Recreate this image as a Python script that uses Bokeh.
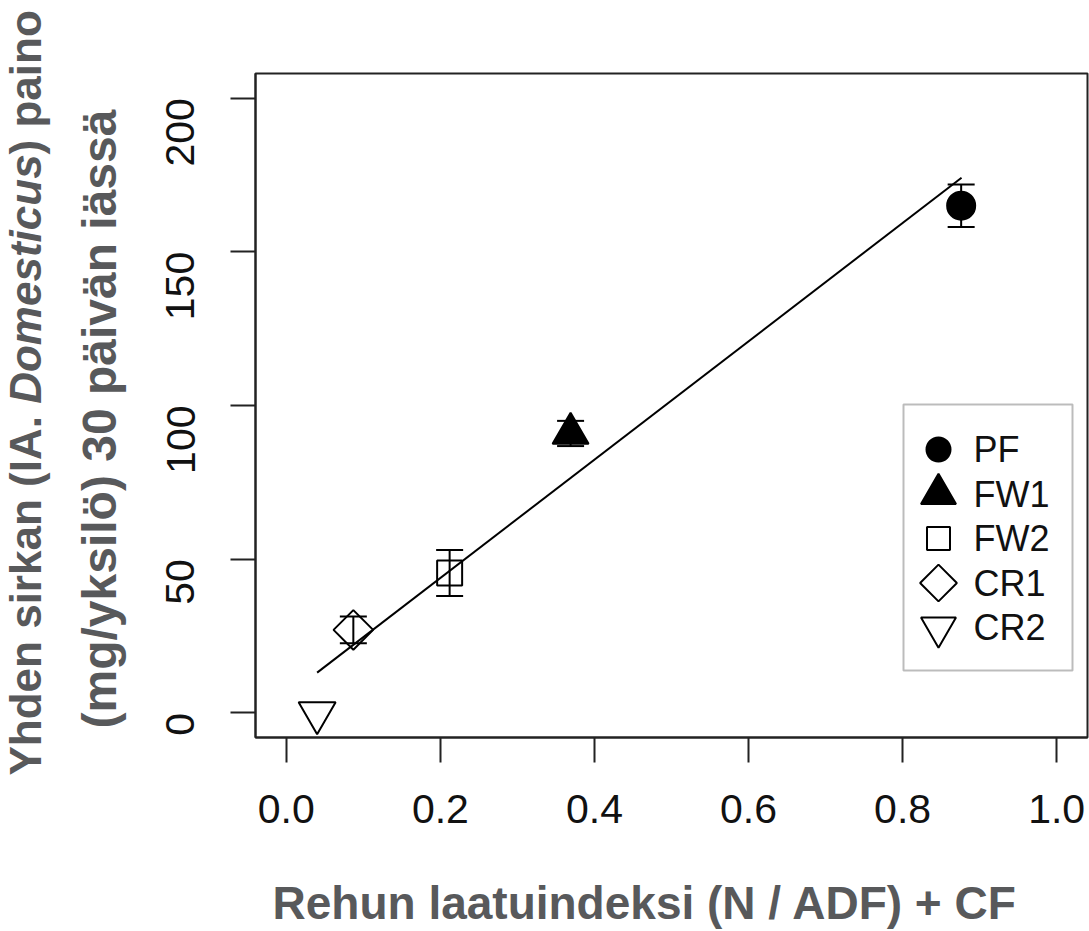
import math
from bokeh.plotting import figure
from bokeh.layouts import row, column
from bokeh.models import (ColumnDataSource, Whisker, TeeHead, Label, BoxAnnotation,
                          FixedTicker, NumeralTickFormatter, Range1d)
from bokeh.core.properties import value
from bokeh.embed import file_html
from bokeh.resources import INLINE

# ---------------- data ----------------
groups = ["PF", "FW1", "FW2", "CR1", "CR2"]
feed_index = [0.876, 0.369, 0.212, 0.087, 0.040]
weight_mean = [165.0, 90.9, 45.5, 27.0, 0.0]
weight_se = [6.9, 4.1, 7.5, 4.35, 0.0]
fit_x = [0.040, 0.8765]
fit_y = [13.1, 174.1]
x_ticks = [0.0, 0.2, 0.4, 0.6, 0.8, 1.0]
y_ticks = [0, 50, 100, 150, 200]
x_title = "Rehun laatuindeksi (N / ADF) + CF"
y_title_1 = ["Yhden sirkan (IA. ", "Domesticus", ") paino"]
y_title_2 = "(mg/yksilö) 30 päivän iässä"

# ---------------- styles ----------------
STYLE = {
    "PF":  dict(marker="circle", size=28, angle=0.0, filled=True, legend_size=24),
    "FW1": dict(marker="triangle", size=36, angle=0.0, filled=True, legend_size=35),
    "FW2": dict(marker="square", size=25, angle=0.0, filled=False, legend_size=23),
    "CR1": dict(marker="square", size=28, angle=math.pi / 4, filled=False, legend_size=26),
    "CR2": dict(marker="inverted_triangle", size=37, angle=0.0, filled=False, legend_size=35),
}
FONT = "Liberation Sans"
TITLE_COLOR = "#58595b"
INK = "#111111"
EDGE = "#222222"
MID = 0.3465   # distance baseline -> em middle, in em

# ---------------- layout (pixels of the whole page) ----------------
TOT_W, TOT_H = 1089, 931
YT_W = 132            # strip on the left holding the y title
XT_H = 70             # strip below holding the x title
MW, MH = TOT_W - YT_W, TOT_H - XT_H
L, R, T = 255 - YT_W, 2, 73
FRAME_H = 664
B = MH - T - FRAME_H
XR = (-0.04, 1.04)
YR = (-8.0, 208.0)

FX0, FX1 = YT_W + L, YT_W + MW - R
FY0, FY1 = T, T + FRAME_H


def dx(px):
    return XR[0] + (px - FX0) / (FX1 - FX0) * (XR[1] - XR[0])


def dy(py):
    return YR[0] + (FY1 - py) / (FY1 - FY0) * (YR[1] - YR[0])


p = figure(width=MW, height=MH, x_range=Range1d(*XR), y_range=Range1d(*YR),
           output_backend="svg", toolbar_location=None,
           min_border_left=L, min_border_right=R, min_border_top=T, min_border_bottom=B)
p.grid.visible = False
p.outline_line_color = EDGE
p.outline_line_width = 2
p.background_fill_color = "white"
p.border_fill_color = "white"

for ax in (p.xaxis[0], p.yaxis[0]):
    ax.major_tick_out = 25
    ax.major_tick_in = 0
    ax.minor_tick_line_color = None
    ax.major_tick_line_width = 2
    ax.major_tick_line_color = EDGE
    ax.axis_line_width = 2
    ax.axis_line_color = EDGE
    ax.major_label_text_font = FONT
    ax.major_label_text_font_size = "41px"
    ax.major_label_text_color = INK

p.xaxis.ticker = FixedTicker(ticks=x_ticks)
p.xaxis.formatter = NumeralTickFormatter(format="0.0")
p.yaxis.ticker = FixedTicker(ticks=y_ticks)
p.yaxis.major_label_orientation = math.pi / 2
p.xaxis.major_label_standoff = 32
p.yaxis.major_label_standoff = 50

# error bars
wx, wu, wl = [], [], []
for xv, m, s in zip(feed_index, weight_mean, weight_se):
    if s > 0:
        wx.append(xv)
        wu.append(m + s)
        wl.append(m - s)
wsrc = ColumnDataSource(dict(x=wx, upper=wu, lower=wl))
p.add_layout(Whisker(base="x", upper="upper", lower="lower", source=wsrc, dimension="height",
                     line_width=2, line_color="black",
                     upper_head=TeeHead(size=27, line_width=2, line_color="black"),
                     lower_head=TeeHead(size=27, line_width=2, line_color="black")))

# regression line
p.line(fit_x, fit_y, line_width=2, line_color="black")

# points
pts = ColumnDataSource(dict(
    x=feed_index, y=weight_mean, group=groups,
    marker=[STYLE[g]["marker"] for g in groups],
    size=[STYLE[g]["size"] for g in groups],
    angle=[STYLE[g]["angle"] for g in groups],
    fa=[1.0 if STYLE[g]["filled"] else 0.0 for g in groups],
))
p.scatter(x="x", y="y", marker="marker", size="size", angle="angle", source=pts,
          fill_color="black", fill_alpha="fa", line_color="black", line_width=2)

# legend (box, keys and labels placed by layout constants)
LEG_BOX = (903, 1072, 404, 670)      # left, right, top, bottom (page px)
LEG_X, LEG_TEXT_X, LEG_Y0, LEG_DY = 938, 973, 449, 44.5
p.add_layout(BoxAnnotation(left=dx(LEG_BOX[0]), right=dx(LEG_BOX[1]),
                           top=dy(LEG_BOX[2]), bottom=dy(LEG_BOX[3]),
                           fill_alpha=0, line_color=EDGE, line_width=2))
leg = ColumnDataSource(dict(
    x=[dx(LEG_X)] * len(groups),
    tx=[dx(LEG_TEXT_X)] * len(groups),
    y=[dy(LEG_Y0 + i * LEG_DY) for i in range(len(groups))],
    label=groups,
    marker=[STYLE[g]["marker"] for g in groups],
    size=[STYLE[g]["legend_size"] for g in groups],
    angle=[STYLE[g]["angle"] for g in groups],
    fa=[1.0 if STYLE[g]["filled"] else 0.0 for g in groups],
))
p.scatter(x="x", y="y", marker="marker", size="size", angle="angle", source=leg,
          fill_color="black", fill_alpha="fa", line_color="black", line_width=2)
p.text(x="tx", y="y", text="label", source=leg, text_baseline="middle", text_align="left",
       text_font=value(FONT), text_font_size="36px", text_color=INK)


def strip(w, h, xr):
    f = figure(width=w, height=h, x_range=Range1d(*xr), y_range=Range1d(0, h),
               output_backend="svg", toolbar_location=None, min_border=0,
               x_axis_location=None, y_axis_location=None, title_location=None)
    f.grid.visible = False
    f.outline_line_color = None
    f.background_fill_color = "white"
    f.border_fill_color = "white"
    return f


# ---------------- y title strip ----------------
fy = strip(YT_W, TOT_H, (0, YT_W))
Y1_SIZE, Y2_SIZE = 44, 48
Y1_BASE_X, Y1_START = 40, 775          # baseline x, start (bottom) y, page px
Y2_BASE_X, Y2_START = 116, 728
piece_offsets = [0.0, 371.7, 621.1]
piece_styles = ["bold", "bold italic", "bold"]
for txt, off, fs in zip(y_title_1, piece_offsets, piece_styles):
    fy.add_layout(Label(x=Y1_BASE_X - MID * Y1_SIZE, y=TOT_H - Y1_START + off, text=txt,
                        angle=math.pi / 2, text_align="left", text_baseline="middle",
                        text_font=FONT, text_font_style=fs, text_font_size=f"{Y1_SIZE}px",
                        text_color=TITLE_COLOR))
fy.add_layout(Label(x=Y2_BASE_X - MID * Y2_SIZE, y=TOT_H - Y2_START, text=y_title_2,
                    angle=math.pi / 2, text_align="left", text_baseline="middle",
                    text_font=FONT, text_font_style="bold", text_font_size=f"{Y2_SIZE}px",
                    text_color=TITLE_COLOR))

# ---------------- x title strip (its frame lines up with the main frame) ----------------
fx = strip(MW, XT_H, (FX0, FX1))
XT_SIZE, XT_START, XT_BASE = 46, 272, 918
fx.add_layout(Label(x=XT_START, y=TOT_H - (XT_BASE - MID * XT_SIZE), text=x_title,
                    text_align="left", text_baseline="middle", text_font=FONT,
                    text_font_style="bold", text_font_size=f"{XT_SIZE}px",
                    text_color=TITLE_COLOR))

layout = row(fy, column(p, fx, spacing=0), spacing=0)
open("out.html", "w").write(file_html(layout, INLINE))
